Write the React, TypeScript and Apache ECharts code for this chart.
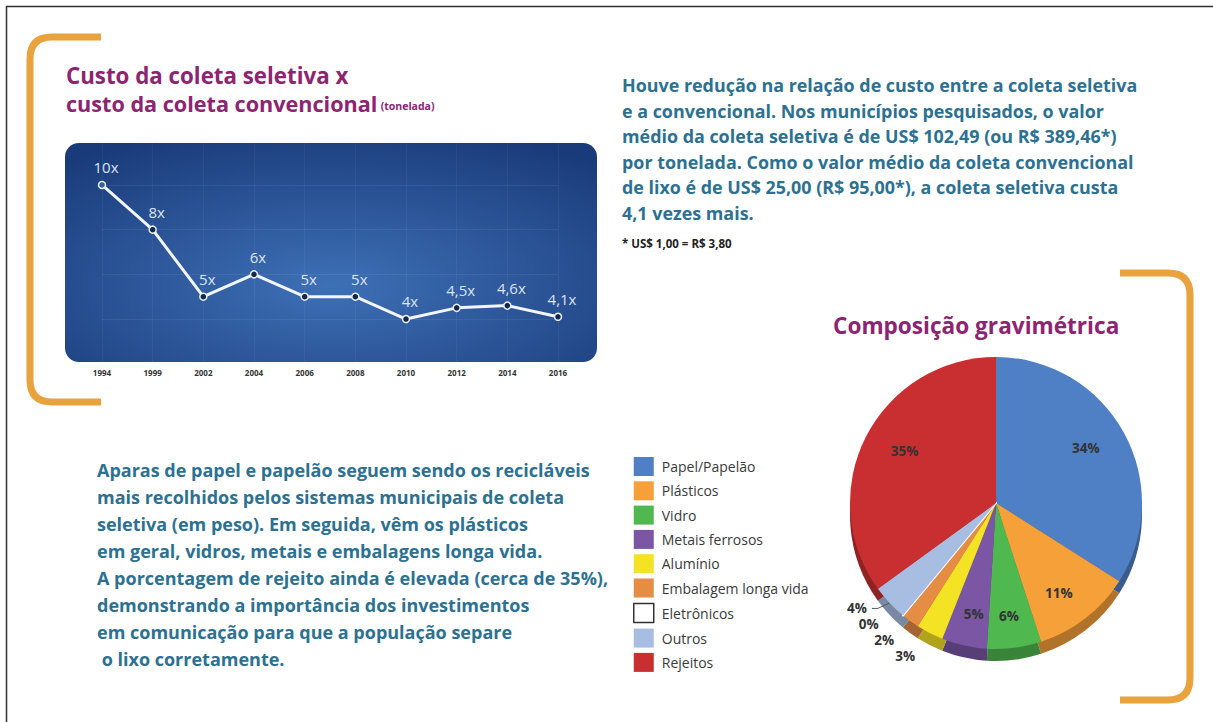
import React, { useEffect, useRef } from 'react';
import * as echarts from 'echarts';

const years = ['1994', '1999', '2002', '2004', '2006', '2008', '2010', '2012', '2014', '2016'];
const costRatio = [10, 8, 5, 6, 5, 5, 4, 4.5, 4.6, 4.1];

const materials = [
  'Papel/Papelão',
  'Plásticos',
  'Vidro',
  'Metais ferrosos',
  'Alumínio',
  'Embalagem longa vida',
  'Eletrônicos',
  'Outros',
  'Rejeitos',
];
const shares = [34, 11, 6, 5, 3, 2, 0, 4, 35];
const materialColors = ['#4F7FC4', '#F6A03A', '#4FB84F', '#7A56A4', '#F4E225', '#E58C45', '#FFFFFF', '#A8BDE2', '#C92F31'];

const titleLine1 = 'Custo da coleta seletiva x';
const titleLine2 = 'custo da coleta convencional';
const titleUnit = '(tonelada)';
const pieTitle = 'Composição gravimétrica';
const rightText = [
  'Houve redução na relação de custo entre a coleta seletiva',
  'e a convencional. Nos municípios pesquisados, o valor',
  'médio da coleta seletiva é de US$ 102,49 (ou R$ 389,46*)',
  'por tonelada. Como o valor médio da coleta convencional',
  'de lixo é de US$ 25,00 (R$ 95,00*), a coleta seletiva custa',
  '4,1 vezes mais.',
];
const footnote = '* US$ 1,00 = R$ 3,80';
const bottomText = [
  'Aparas de papel e papelão seguem sendo os recicláveis',
  'mais recolhidos pelos sistemas municipais de coleta',
  'seletiva (em peso). Em seguida, vêm os plásticos',
  'em geral, vidros, metais e embalagens longa vida.',
  'A porcentagem de rejeito ainda é elevada (cerca de 35%),',
  'demonstrando a importância dos investimentos',
  'em comunicação para que a população separe',
  ' o lixo corretamente.',
];

const PURPLE = '#8C2472';
const TEAL = '#2C7191';
const ORANGE = '#E8A23E';
const FONT = '"Open Sans", sans-serif';

const PIE_CENTER = [996, 503];
const PIE_R = 146;

function darken(hex: string, k: number) {
  const n = parseInt(hex.slice(1), 16);
  const r = Math.round(((n >> 16) & 255) * k);
  const g = Math.round(((n >> 8) & 255) * k);
  const b = Math.round((n & 255) * k);
  return `rgb(${r},${g},${b})`;
}

echarts.graphic.registerShape(
  'bracketLeft',
  echarts.graphic.extendPath('M 101 37 L 52 37 Q 30 37 30 59 L 30 380 Q 30 402 52 402 L 101 402', {})
);
echarts.graphic.registerShape(
  'bracketRight',
  echarts.graphic.extendPath('M 1120 273 L 1168 273 Q 1190 273 1190 295 L 1190 678 Q 1190 700 1168 700 L 1120 700', {})
);

export default function App() {
  const ref = useRef<HTMLDivElement>(null);

  useEffect(() => {
    if (!ref.current) return;
    const chart = echarts.init(ref.current, null, { renderer: 'svg' });

    const option: any = {
      animation: false,
      backgroundColor: '#ffffff',
      grid: { left: 102, top: 140.3, width: 456, height: 223.4, containLabel: false },
      xAxis: {
        type: 'category',
        data: years,
        boundaryGap: false,
        axisLine: { show: false },
        axisTick: { show: false },
        axisLabel: { color: '#333', fontSize: 8, fontWeight: 'bold', margin: 5, fontFamily: FONT },
        splitLine: { show: true, lineStyle: { color: 'rgba(255,255,255,0.05)' } },
      },
      yAxis: {
        type: 'value',
        min: 2,
        max: 12,
        interval: 2,
        axisLine: { show: false },
        axisTick: { show: false },
        axisLabel: { show: false },
        splitLine: { show: true, lineStyle: { color: 'rgba(255,255,255,0.07)' } },
      },
      legend: {
        orient: 'vertical',
        left: 628,
        top: 452,
        itemWidth: 20,
        itemHeight: 19,
        itemGap: 5.3,
        icon: 'rect',
        selectedMode: false,
        data: materials.map((n, i) =>
          i === 6
            ? { name: n, itemStyle: { color: '#ffffff', borderColor: '#333', borderWidth: 1.5 } }
            : { name: n, itemStyle: { color: materialColors[i], borderWidth: 0 } }
        ),
        textStyle: { color: '#3a3a3a', fontSize: 14, fontFamily: FONT, padding: [0, 0, 0, 3] },
      },
      series: [
        {
          type: 'line',
          data: costRatio.map((v, i) =>
            i === 0 ? { value: v, itemStyle: { color: '#35619f' } } : v
          ),
          symbol: 'circle',
          symbolSize: 7,
          itemStyle: { color: '#14264a', borderColor: '#e8eef8', borderWidth: 1.5 },
          lineStyle: { color: '#f2f5fa', width: 3 },
          label: {
            show: true,
            position: 'top',
            distance: 6,
            offset: [4, 0],
            color: '#dbe4f2',
            fontSize: 15,
            fontFamily: FONT,
            formatter: (p: any) => String(p.value).replace('.', ',') + 'x',
          },
          z: 5,
        },
        {
          type: 'pie',
          center: PIE_CENTER,
          radius: PIE_R,
          startAngle: 90,
          clockwise: true,
          avoidLabelOverlap: true,
          z: 3,
          data: materials.map((n, i) => ({
            name: n,
            value: shares[i],
            itemStyle:
              i === 6
                ? { color: materialColors[i], borderColor: '#ffffff', borderWidth: 2 }
                : { color: materialColors[i] },
            label: { position: shares[i] < 5 ? 'outside' : 'inside' },
            labelLine: { show: i === 7 },
          })),
          label: {
            formatter: '{c}%',
            fontSize: 13.5,
            fontWeight: 'bold',
            color: '#333',
            fontFamily: FONT,
          },
          labelLine: { length: 8, length2: 6, lineStyle: { color: '#555', width: 1 } },
          labelLayout: (params: any) => {
            if (shares[params.dataIndex] < 5) return {};
            const r = params.labelRect;
            const lx = r.x + r.width / 2;
            const ly = r.y + r.height / 2;
            return { dx: (lx - PIE_CENTER[0]) * 0.35, dy: (ly - PIE_CENTER[1]) * 0.5 };
          },
        },
        {
          type: 'pie',
          silent: true,
          center: [PIE_CENTER[0], PIE_CENTER[1] + 12],
          radius: PIE_R,
          startAngle: 90,
          clockwise: true,
          z: 1,
          label: { show: false },
          labelLine: { show: false },
          data: materials.map((n, i) => ({
            name: n,
            value: shares[i],
            itemStyle: { color: darken(materialColors[i], 0.72) },
          })),
        },
      ],
      graphic: [
        { type: 'line', shape: { x1: 6, y1: 6.5, x2: 1213, y2: 6.5 }, style: { stroke: '#333', lineWidth: 1.5 }, z: 0 },
        { type: 'line', shape: { x1: 6.5, y1: 6, x2: 6.5, y2: 722 }, style: { stroke: '#333', lineWidth: 1.5 }, z: 0 },
        { type: 'bracketLeft', x: 0, y: 0, style: { stroke: ORANGE, lineWidth: 7, fill: 'none' }, z: 0 },
        { type: 'bracketRight', x: 0, y: 0, style: { stroke: ORANGE, lineWidth: 7, fill: 'none' }, z: 0 },
        {
          type: 'rect',
          shape: { x: 65, y: 143, width: 532, height: 219, r: 14 },
          style: {
            fill: {
              type: 'radial',
              x: 0.5,
              y: 0.65,
              r: 0.75,
              colorStops: [
                { offset: 0, color: '#3E70B6' },
                { offset: 1, color: '#1A3B7A' },
              ],
            },
          },
          z: 0,
        },
        {
          type: 'text',
          x: 66,
          y: 75,
          style: { text: titleLine1, fill: PURPLE, fontSize: 22.3, fontWeight: 'bold', fontFamily: FONT, verticalAlign: 'middle' },
          z: 10,
        },
        {
          type: 'text',
          x: 66,
          y: 103,
          style: {
            text: `{a|${titleLine2}} {b|${titleUnit}}`,
            verticalAlign: 'middle',
            rich: {
              a: { fill: PURPLE, fontSize: 21.6, fontWeight: 'bold', fontFamily: FONT },
              b: { fill: PURPLE, fontSize: 10.5, fontWeight: 'bold', fontFamily: FONT, padding: [5, 0, 0, 0] },
            },
          },
          z: 10,
        },
        {
          type: 'text',
          x: 622,
          y: 72.2,
          style: {
            text: rightText.join('\n'),
            fill: TEAL,
            fontSize: 17.9,
            fontWeight: 'bold',
            fontFamily: FONT,
            lineHeight: 25.6,
            verticalAlign: 'top',
          },
          z: 10,
        },
        {
          type: 'text',
          x: 622,
          y: 243,
          style: { text: footnote, fill: '#222', fontSize: 11.5, fontWeight: 'bold', fontFamily: FONT, verticalAlign: 'middle' },
          z: 10,
        },
        {
          type: 'text',
          x: 833,
          y: 325,
          style: { text: pieTitle, fill: PURPLE, fontSize: 22.6, fontWeight: 'bold', fontFamily: FONT, verticalAlign: 'middle' },
          z: 10,
        },
        {
          type: 'text',
          x: 97,
          y: 456.5,
          style: {
            text: bottomText.join('\n'),
            fill: TEAL,
            fontSize: 18,
            fontWeight: 'bold',
            fontFamily: FONT,
            lineHeight: 27,
            verticalAlign: 'top',
          },
          z: 10,
        },
      ],
    };

    chart.setOption(option);
    return () => chart.dispose();
  }, []);

  return <div ref={ref} style={{ position: 'fixed', left: 0, top: 0, width: 1213, height: 722 }} />;
}
